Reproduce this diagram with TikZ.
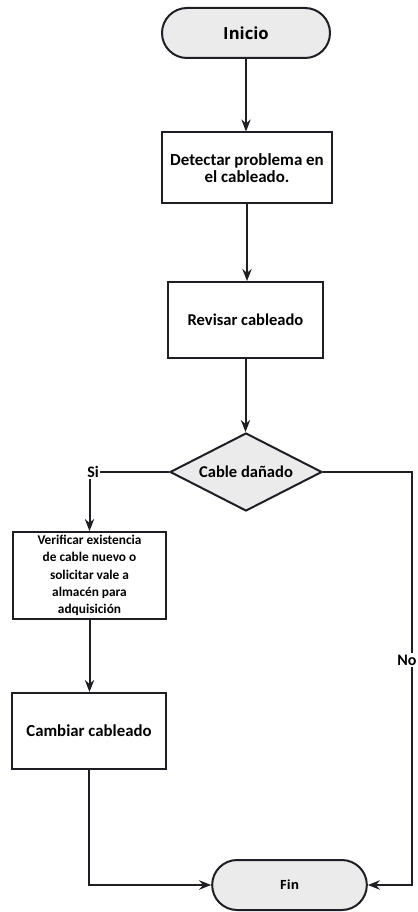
\documentclass[tikz,border=0pt]{standalone}
\usepackage{fontspec}
\setmainfont{Carlito}
\newfontfamily\termfont{Open Sans}
\usetikzlibrary{shapes.geometric,shapes.misc,arrows.meta}
\definecolor{termgrey}{HTML}{EBEBEB}
\definecolor{ink}{HTML}{1E1E24}
\tikzset{
  line/.style={draw=ink,line width=1.5pt},
  arr/.style={line,-{Stealth[length=9pt,width=7pt]}},
  term/.style={rounded rectangle,draw=ink,line width=1.5pt,fill=termgrey,inner sep=0pt,font=\termfont\bfseries},
  proc/.style={rectangle,draw=ink,line width=1.5pt,fill=white,inner sep=2pt,align=center,font=\bfseries},
  decis/.style={diamond,aspect=1.95,draw=ink,line width=1.5pt,fill=termgrey,inner sep=0pt,font=\fontsize{12.4}{14}\selectfont\bfseries},
  lbl/.style={inner sep=1pt,font=\fontsize{12}{14}\selectfont\bfseries}
}
\begin{document}
\begin{tikzpicture}[x=0.75pt,y=-0.75pt]
\useasboundingbox (0,0) rectangle (417,912);
\node[term,minimum width=126pt,minimum height=37.5pt,font=\termfont\fontsize{12.5}{14}\selectfont\bfseries] (inicio) at (246,33) {Inicio};
\node[proc,minimum width=127.5pt,minimum height=53.25pt,font=\fontsize{12.7}{13}\selectfont\bfseries] (detect) at (247,168) {Detectar problema en\\el cableado.};
\node[proc,minimum width=116pt,minimum height=57pt,font=\fontsize{12.4}{14}\selectfont\bfseries] (revisar) at (245.5,320) {Revisar cableado};
\node[decis,minimum width=114pt,minimum height=58.5pt] (dia) at (246,472) {Cable dañado};
\node[proc,minimum width=114.75pt,minimum height=65.25pt,font=\fontsize{10}{13}\selectfont\bfseries] (verif) at (89.5,575.5) {Verificar existencia\\de cable nuevo o\\solicitar vale a\\almacén para\\adquisición};
\node[proc,minimum width=115.5pt,minimum height=57pt,font=\fontsize{12.6}{14}\selectfont\bfseries] (cambiar) at (89,731) {Cambiar cableado};
\node[term,minimum width=116pt,minimum height=37.5pt,font=\termfont\fontsize{9.5}{11}\selectfont\bfseries] (fin) at (289.5,885) {Fin};
\node[lbl] (si) at (93,472) {Si};
\node[lbl,fill=white] (no) at (407,660) {No};
\coordinate (c1) at (412,472);
\coordinate (c2) at (412,885);
\coordinate (c3) at (89,885);

\draw[arr] (inicio.south) -- (inicio.south |- detect.north);
\draw[arr] (detect.south) -- (detect.south |- revisar.north);
\draw[arr] (revisar.south) -- (revisar.south |- dia.north);
\draw[line] (dia.west) -- (si.east);
\draw[arr] (si.south -| verif.north) -- (verif.north);
\draw[arr] (verif.south) -- (verif.south |- cambiar.north);
\draw[arr] (cambiar.south) -- (c3) -- (fin.west);
\draw[line] (dia.east) -- (c1) -- (c1 |- no.north);
\draw[arr] (c2 |- no.south) -- (c2) -- (fin.east);
\end{tikzpicture}
\end{document}
